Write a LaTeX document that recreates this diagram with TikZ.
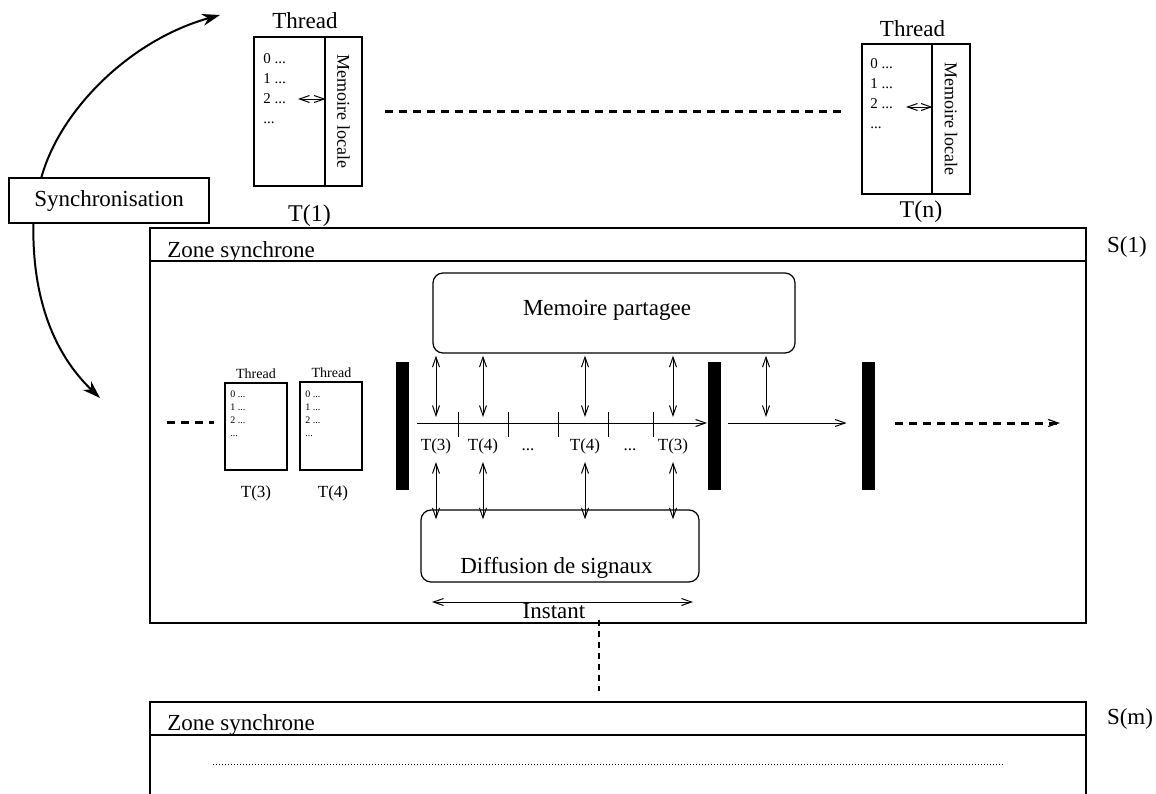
\documentclass[tikz,border=0pt]{standalone}
\usepackage{fontspec}
\setmainfont{Liberation Serif}
\usetikzlibrary{arrows.meta}
\tikzset{
  box/.style={draw, line width=0.6pt, inner sep=0pt},
  roundbox/.style={box, rounded corners=5pt},
  bar/.style={fill=black, inner sep=0pt, minimum width=6.5pt, minimum height=64pt},
  bigtxt/.style={inner sep=0pt, font=\fontsize{11.5}{13}\selectfont},
  nametxt/.style={inner sep=0pt, font=\fontsize{12}{14}\selectfont},
  midtxt/.style={inner sep=0pt, font=\fontsize{8.5}{10}\selectfont},
  progtxt/.style={inner sep=0pt, anchor=base west, font=\fontsize{7.5}{8}\selectfont},
  tinytxt/.style={inner sep=0pt, anchor=base west, font=\fontsize{5}{6}\selectfont},
  dashline/.style={line width=1.5pt, dash pattern=on 4pt off 3pt},
  link/.style={line width=0.5pt, <->},
  syncarrow/.style={line width=1pt, -{Stealth[length=9pt,width=6pt]}},
  dotline/.style={line width=0.5pt, dash pattern=on 0.5pt off 1pt},
  >={Straight Barb[length=5pt,width=3.5pt]}
}
\begin{document}
\begin{tikzpicture}[x=0.5pt,y=-0.5pt]
\useasboundingbox (0,0) rectangle (1156,793);

\node[box, minimum width=35.5pt, minimum height=74.5pt] (t1prog) at (289.5,111.5){};
\node[box, rotate=-90, minimum width=74.5pt, minimum height=18.5pt, font=\fontsize{9}{10}\selectfont] (t1mem) at (343.5,111.5){Memoire locale};
\node[bigtxt, anchor=base] (t1head) at (305,28){Thread};
\node[nametxt, anchor=base] (t1name) at (309.5,221){T(1)};
\foreach \i/\s in {0/{0 ...},1/{1 ...},2/{2 ...},3/{...}}
  \node[progtxt] (t1l\i) at (263,{63+20*\i}){\s};
\coordinate (t1a) at (298,99);
\draw[link] (t1a) -- (t1a -| t1prog.east);

\node[box, minimum width=35pt, minimum height=75pt] (tnprog) at (897,119){};
\node[box, rotate=-90, minimum width=75pt, minimum height=19pt, font=\fontsize{9}{10}\selectfont] (tnmem) at (951,119){Memoire locale};
\node[bigtxt, anchor=base] (tnhead) at (912.5,36){Thread};
\node[nametxt, anchor=base] (tnname) at (921,217){T(n)};
\foreach \i/\s in {0/{0 ...},1/{1 ...},2/{2 ...},3/{...}}
  \node[progtxt] (tnl\i) at (870,{68+20*\i}){\s};
\coordinate (tna) at (906,107);
\draw[link] (tna) -- (tna -| tnprog.east);

\coordinate (tdl) at (385,111);
\coordinate (tdr) at (845,111);
\draw[dashline] (tdl) -- (tdr);

\node[box, minimum width=100pt, minimum height=22.5pt, bigtxt] (sync) at (109,200.5){Synchronisation};
\coordinate (syncA) at (220,15);
\coordinate (syncB) at (100,398);
\draw[syncarrow] ([xshift=16.5pt]sync.north west) .. controls (60,110) and (130,40) .. (syncA);
\draw[syncarrow] ([xshift=12.5pt]sync.south west) .. controls (32,300) and (55,355) .. (syncB);

\node[box, minimum width=468pt, minimum height=16.5pt] (z1head) at (618,244.5){};
\node[box, minimum width=468pt, minimum height=181pt] (z1body) at (618,442){};
\node[bigtxt, anchor=base west] (z1title) at (167,257){Zone synchrone};
\node[bigtxt, anchor=base] (z1name) at (1127,252){S(1)};

\node[roundbox, minimum width=181pt, minimum height=40pt] (shmem) at (614,313){};
\node[bigtxt, anchor=base] (shmemtxt) at (607,315){Memoire partagee};
\node[roundbox, minimum width=139pt, minimum height=36pt] (diff) at (560,546){};
\node[bigtxt, anchor=base] (difftxt) at (556.5,573){Diffusion de signaux};

\node[box, minimum width=31pt, minimum height=43.5pt] (t3prog) at (256,426.5){};
\node[box, minimum width=31pt, minimum height=44pt] (t4prog) at (331,426){};
\node[midtxt, anchor=base, font=\fontsize{7}{8}\selectfont] (t3head) at (256,378){Thread};
\node[midtxt, anchor=base, font=\fontsize{7}{8}\selectfont] (t4head) at (331.5,377){Thread};
\node[midtxt, anchor=base] (t3name) at (256,497){T(3)};
\node[midtxt, anchor=base] (t4name) at (333,497){T(4)};
\foreach \i/\s in {0/{0 ...},1/{1 ...},2/{2 ...},3/{...}}{
  \node[tinytxt] (t3l\i) at (230,{397+13*\i}){\s};
  \node[tinytxt] (t4l\i) at (305,{397+13*\i}){\s};
}
\coordinate (ldl) at (167,422);
\draw[dashline] (ldl) -- (ldl -| t3prog.west) [shorten >=5pt];

\node[bar] (bar1) at (402,426){};
\node[bar] (bar2) at (714,425.5){};
\node[bar] (bar3) at (868.5,425.5){};

\coordinate (tl0) at (417,423);
\draw[->, line width=0.5pt] (tl0) -- (tl0 -| bar2.west);
\foreach \x in {458,508,558,608,653}
  \draw[line width=0.5pt] (\x,412) -- (\x,437);
\foreach \x/\s [count=\i] in {436/{T(3)},483/{T(4)},528/{...},585/{T(4)},630/{...},673/{T(3)}}
  \node[midtxt, anchor=base] (tl\i) at (\x,450){\s};
\foreach \n in {1,2,4,6}{
  \draw[link, shorten <=1pt, shorten >=3pt] (shmem.south -| tl\n) -- (tl0 -| tl\n);
  \draw[link, shorten <=4pt, shorten >=-5pt] (tl\n.south) -- (diff.north -| tl\n);
}

\coordinate (mid23) at (766,423);
\draw[->, line width=0.5pt, shorten <=3.5pt, shorten >=7.5pt] (bar2.east |- tl0) -- (bar3.west |- tl0);
\draw[link, shorten <=1pt, shorten >=3pt] (shmem.south -| mid23) -- (mid23);
\coordinate (tlend) at (1060,423);
\draw[dashline, -{Straight Barb[length=5pt,width=3.5pt,line width=0.6pt]}, shorten <=10pt] (bar3.east |- tl0) -- (tlend);

\coordinate (instl) at (432,602);
\coordinate (instr) at (693,602);
\draw[link] (instl) -- (instr);
\node[bigtxt, anchor=base] (insttxt) at (554,618){Instant};

\node[box, minimum width=468pt, minimum height=16.5pt] (z2head) at (618,718.5){};
\node[box, minimum width=468pt, minimum height=35pt] (z2body) at (618,770){};
\node[bigtxt, anchor=base west] (z2title) at (167,730){Zone synchrone};
\node[bigtxt, anchor=base] (z2name) at (1130,724){S(m)};

\coordinate (vdx) at (599,0);
\draw[line width=1.2pt, dash pattern=on 3pt off 2.5pt, shorten <=-2pt, shorten >=5pt] (z1body.south -| vdx) -- (z2head.north -| vdx);

\coordinate (dotl) at (213,764);
\coordinate (dotr) at (1004,764);
\draw[dotline] (dotl) -- (dotr);
\end{tikzpicture}
\end{document}
